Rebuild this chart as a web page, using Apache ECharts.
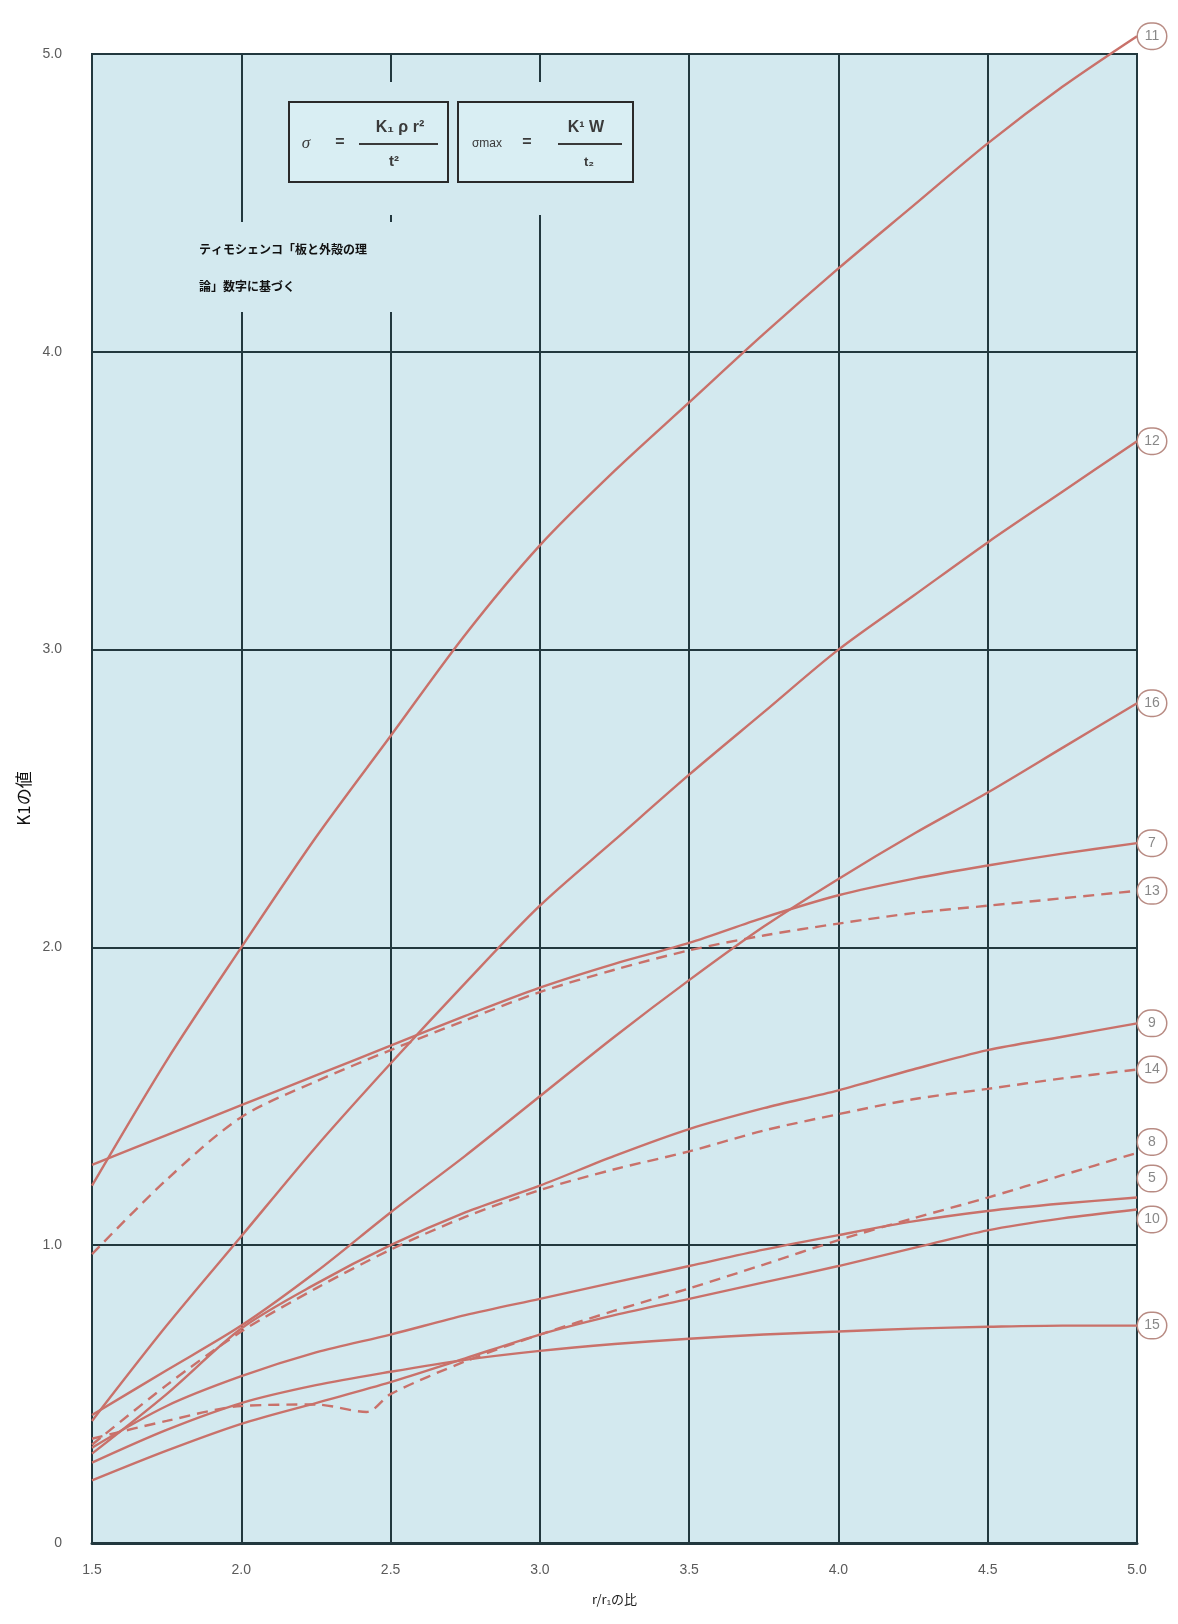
<!DOCTYPE html>
<html>
<head>
<meta charset="utf-8">
<title>K1の値</title>
<script src="https://cdn.jsdelivr.net/npm/echarts@6/dist/echarts.min.js"></script>
<style>
  html, body { margin: 0; padding: 0; background: #fff; }
  #chart { width: 1178px; height: 1624px; }
</style>
</head>
<body>
<div id="chart"></div>
<script>
// r/r1 の比 (x) と各曲線の K1 の値 (y)
const ratio = [1.5, 1.75, 2.0, 2.25, 2.5, 2.75, 3.0, 3.25, 3.5, 3.75, 4.0, 4.25, 4.5, 4.75, 5.0];
const ratio8 = [1.5, 1.75, 2.0, 2.25, 2.42, 2.5, 2.75, 3.0, 3.25, 3.5, 3.75, 4.0, 4.25, 4.5, 4.75, 5.0];

const k11 = [1.2, 1.62, 2.0, 2.37, 2.71, 3.05, 3.35, 3.6, 3.83, 4.06, 4.28, 4.49, 4.7, 4.89, 5.06];
const k12 = [0.41, 0.73, 1.03, 1.33, 1.61, 1.88, 2.14, 2.36, 2.58, 2.79, 3.0, 3.18, 3.36, 3.53, 3.7];
const k16 = [0.43, 0.58, 0.73, 0.91, 1.11, 1.3, 1.5, 1.7, 1.89, 2.07, 2.23, 2.38, 2.52, 2.67, 2.82];
const k7 = [1.27, 1.37, 1.47, 1.57, 1.67, 1.77, 1.865, 1.945, 2.015, 2.1, 2.175, 2.23, 2.275, 2.315, 2.35];
const k13 = [0.97, 1.22, 1.43, 1.55, 1.655, 1.755, 1.85, 1.925, 1.99, 2.04, 2.08, 2.115, 2.14, 2.165, 2.19];
const k9 = [0.3, 0.5, 0.72, 0.87, 1.0, 1.11, 1.2, 1.3, 1.39, 1.46, 1.52, 1.59, 1.655, 1.7, 1.745];
const k14 = [0.33, 0.53, 0.71, 0.855, 0.985, 1.095, 1.185, 1.255, 1.315, 1.385, 1.44, 1.49, 1.525, 1.56, 1.59];
const k8 = [0.35, 0.41, 0.46, 0.465, 0.44, 0.5, 0.61, 0.7, 0.78, 0.855, 0.935, 1.017, 1.09, 1.16, 1.235, 1.31];
const k5 = [0.32, 0.46, 0.56, 0.64, 0.7, 0.765, 0.82, 0.875, 0.93, 0.985, 1.034, 1.08, 1.115, 1.14, 1.16];
const k10 = [0.21, 0.31, 0.4, 0.47, 0.54, 0.62, 0.7, 0.765, 0.82, 0.875, 0.93, 0.99, 1.05, 1.09, 1.12];
const k15 = [0.27, 0.38, 0.47, 0.53, 0.575, 0.615, 0.645, 0.668, 0.686, 0.7, 0.71, 0.72, 0.726, 0.73, 0.73];

const xTickLabels = ["1.5", "2.0", "2.5", "3.0", "3.5", "4.0", "4.5", "5.0"];
const yTickLabels = ["0", "1.0", "2.0", "3.0", "4.0", "5.0"];

// 曲線番号, x, y, 破線かどうか, ラベルのずらし
const curves = [
  { name: "11", x: ratio, y: k11, dashed: false, shift: 0 },
  { name: "12", x: ratio, y: k12, dashed: false, shift: 0 },
  { name: "16", x: ratio, y: k16, dashed: false, shift: 0 },
  { name: "7", x: ratio, y: k7, dashed: false, shift: 0 },
  { name: "13", x: ratio, y: k13, dashed: true, shift: 0 },
  { name: "9", x: ratio, y: k9, dashed: false, shift: 0 },
  { name: "14", x: ratio, y: k14, dashed: true, shift: 0 },
  { name: "8", x: ratio8, y: k8, dashed: true, shift: -11 },
  { name: "5", x: ratio, y: k5, dashed: false, shift: -19 },
  { name: "10", x: ratio, y: k10, dashed: false, shift: 10 },
  { name: "15", x: ratio, y: k15, dashed: false, shift: 0 },
];

const lineColor = "#c9716a";
const plotBg = "#d3e9ef";
const gridColor = "#22383e";

const series = curves.map((c) => ({
  name: c.name,
  type: "line",
  data: c.x.map((x, i) => [x, c.y[i]]),
  smooth: 0.3,
  symbol: "none",
  clip: false,
  z: 3,
  lineStyle: {
    color: lineColor,
    width: 2.4,
    type: c.dashed ? [11, 7] : "solid",
  },
  endLabel: {
    show: true,
    distance: 1,
    offset: [0, c.shift],
    formatter: "{c|" + c.name + "}",
    rich: {
      c: {
        width: 28,
        height: 25,
        lineHeight: 25,
        align: "center",
        borderRadius: 13,
        borderWidth: 1.5,
        borderColor: "#b88b83",
        backgroundColor: "#ffffff",
        color: "#888888",
        fontSize: 14,
        fontFamily: "Liberation Sans Narrow, Liberation Sans, sans-serif",
      },
    },
  },
}));

// 数式の枠 (絶対位置の要素)
function boxRect(x, w) {
  return {
    type: "rect",
    z: 10,
    shape: { x: x, y: 102, width: w, height: 80 },
    style: { fill: "#d9eef3", stroke: "#2a2a2a", lineWidth: 2 },
  };
}

function txt(x, y, text, font) {
  return {
    type: "text",
    z: 11,
    x: x,
    y: y,
    style: {
      text: text,
      fill: "#3a3a3a",
      font: font,
      align: "center",
      verticalAlign: "middle",
    },
  };
}

function bar(x1, x2, y) {
  return {
    type: "line",
    z: 11,
    shape: { x1: x1, y1: y, x2: x2, y2: y },
    style: { stroke: "#3a3a3a", lineWidth: 2 },
  };
}

const boldFont = "bold 16px Liberation Sans, sans-serif";

const chart = echarts.init(document.getElementById("chart"));
const option = {
  animation: false,
  backgroundColor: "#ffffff",
  grid: {
    left: 92,
    right: 41,
    top: 54,
    bottom: 81,
    show: true,
    backgroundColor: plotBg,
    borderColor: gridColor,
    borderWidth: 2,
  },
  xAxis: {
    type: "value",
    min: 1.5,
    max: 5.0,
    interval: 0.5,
    name: "r/r₁の比",
    nameLocation: "middle",
    nameGap: 50,
    nameTextStyle: {
      fontSize: 13,
      color: "#222",
      fontFamily: "Noto Sans CJK JP, sans-serif",
    },
    axisLine: { show: true, lineStyle: { color: gridColor, width: 3 } },
    axisTick: { show: false },
    axisLabel: {
      margin: 20,
      fontSize: 14,
      color: "#5a5a5a",
      fontFamily: "Liberation Sans Narrow, Liberation Sans, sans-serif",
      formatter: (v) => xTickLabels[Math.round((v - 1.5) / 0.5)],
    },
    splitLine: { show: true, lineStyle: { color: gridColor, width: 2 } },
  },
  yAxis: {
    type: "value",
    min: 0,
    max: 5,
    interval: 1,
    name: "K1の値",
    nameLocation: "middle",
    nameRotate: 90,
    nameGap: 60,
    nameTextStyle: {
      fontSize: 17,
      color: "#111",
      fontFamily: "Noto Sans CJK JP, sans-serif",
    },
    axisLine: { show: true, lineStyle: { color: gridColor, width: 2 } },
    axisTick: { show: false },
    axisLabel: {
      margin: 30,
      fontSize: 14,
      color: "#5a5a5a",
      fontFamily: "Liberation Sans Narrow, Liberation Sans, sans-serif",
      formatter: (v) => yTickLabels[Math.round(v)],
    },
    splitLine: { show: true, lineStyle: { color: gridColor, width: 2 } },
  },
  graphic: [
    // 数式と注記の背後の格子線を隠す
    {
      type: "rect",
      z: 1,
      shape: { x: 250, y: 82, width: 390, height: 133 },
      style: { fill: plotBg },
    },
    {
      type: "rect",
      z: 1,
      shape: { x: 195, y: 222, width: 245, height: 90 },
      style: { fill: plotBg },
    },
    boxRect(289, 159),
    txt(306, 144, "σ", "italic 17px Liberation Serif, serif"),
    txt(340, 143, "=", boldFont),
    txt(400, 128, "K₁ ρ r²", boldFont),
    bar(359, 438, 144),
    txt(394, 162, "t²", "bold 15px Liberation Sans, sans-serif"),
    boxRect(458, 175),
    txt(487, 144, "σmax", "12px Liberation Sans, sans-serif"),
    txt(527, 143, "=", boldFont),
    txt(586, 128, "K¹ W", boldFont),
    bar(558, 622, 144),
    txt(589, 162, "t₂", "bold 13px Liberation Sans, sans-serif"),
    {
      type: "text",
      z: 10,
      x: 199,
      y: 243,
      style: {
        text: "ティモシェンコ「板と外殻の理",
        fill: "#111",
        font: "bold 12px Noto Sans CJK JP, sans-serif",
      },
    },
    {
      type: "text",
      z: 10,
      x: 199,
      y: 280,
      style: {
        text: "論」数字に基づく",
        fill: "#111",
        font: "bold 12px Noto Sans CJK JP, sans-serif",
      },
    },
  ],
  series: series,
};
chart.setOption(option);
</script>
</body>
</html>
